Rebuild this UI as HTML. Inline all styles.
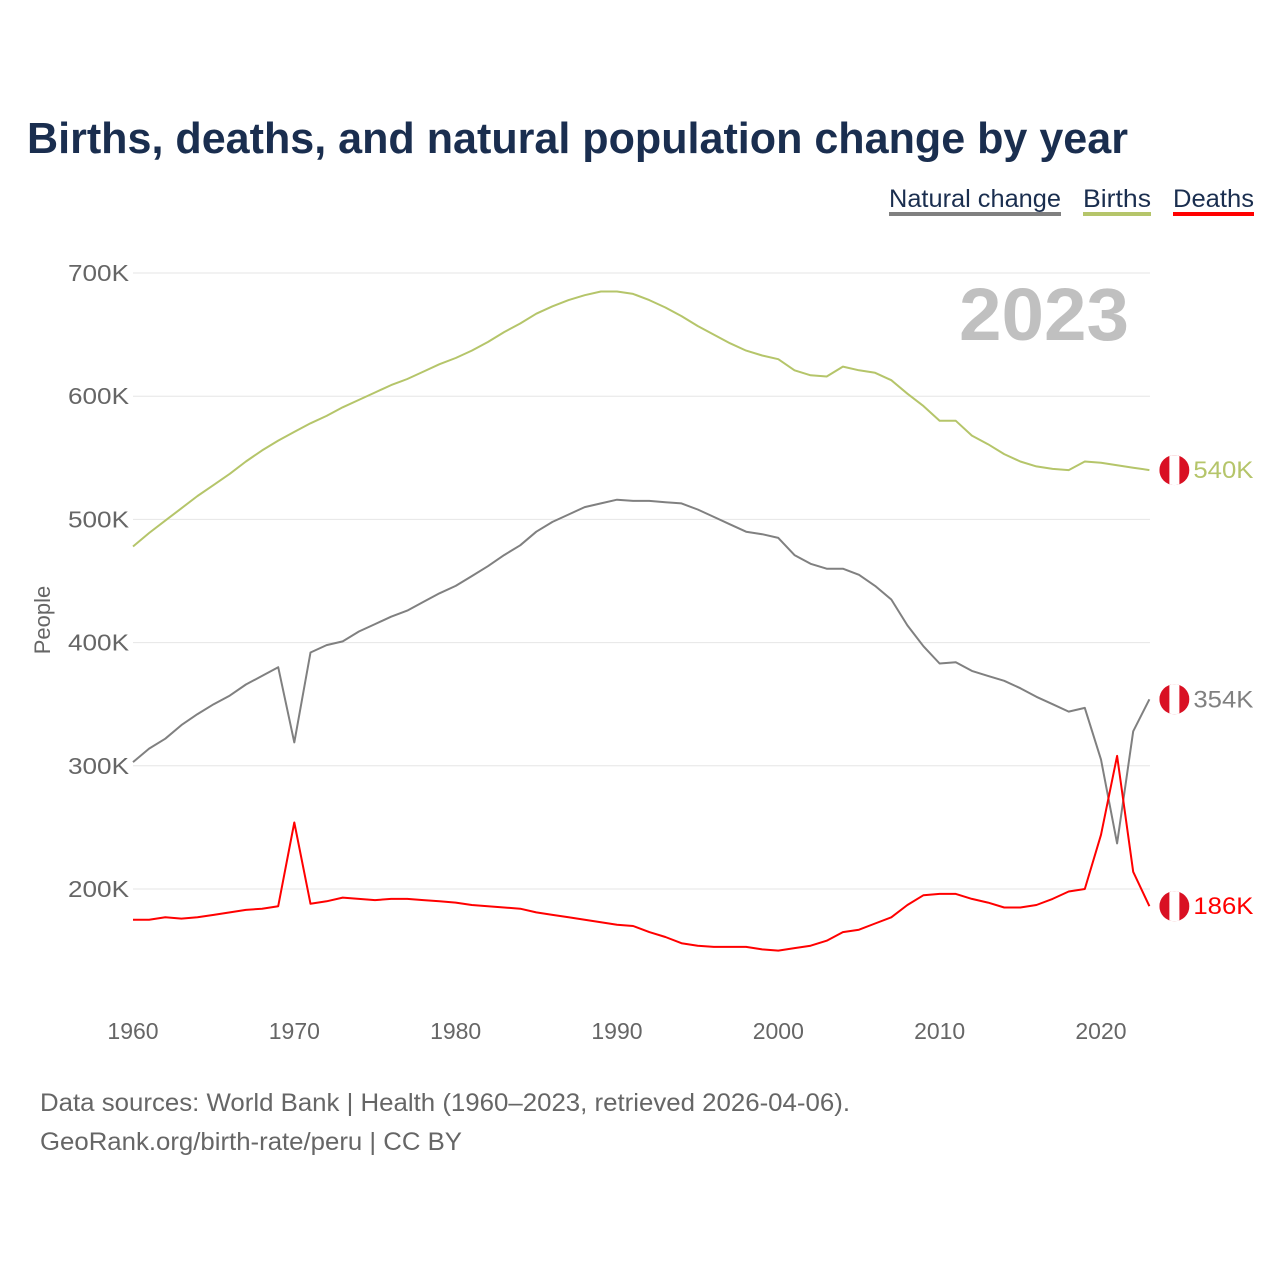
<!DOCTYPE html>
<html><head><meta charset="utf-8"><style>
body{margin:0;background:#fff;font-family:"Liberation Sans",sans-serif;}
svg text{font-family:"Liberation Sans",sans-serif;}
</style></head><body>
<svg id="chart" width="1280" height="1280" xmlns="http://www.w3.org/2000/svg">
<text x="27" y="153" font-size="44" font-weight="bold" fill="#1a2e4f" textLength="1101" lengthAdjust="spacingAndGlyphs">Births, deaths, and natural population change by year</text>
<g>
<g><text x="889" y="207" font-size="25" fill="#1a2e4f" textLength="172" lengthAdjust="spacingAndGlyphs">Natural change</text><rect x="889" y="212" width="172" height="4" fill="#808080"/></g>
<g><text x="1083" y="207" font-size="25" fill="#1a2e4f" textLength="68" lengthAdjust="spacingAndGlyphs">Births</text><rect x="1083" y="212" width="68" height="4" fill="#b5c56a"/></g>
<g><text x="1173" y="207" font-size="25" fill="#1a2e4f" textLength="81" lengthAdjust="spacingAndGlyphs">Deaths</text><rect x="1173" y="212" width="81" height="4" fill="#ff0000"/></g>
</g>
<text x="1129" y="340" font-size="74" font-weight="bold" fill="#c0c0c0" text-anchor="end" textLength="170" lengthAdjust="spacingAndGlyphs">2023</text>
<text transform="translate(50,620) rotate(-90)" font-size="22" fill="#666" text-anchor="middle">People</text>
<g id="grid"></g><g id="series"></g>
<text x="40" y="1111" font-size="25" fill="#666" textLength="810" lengthAdjust="spacingAndGlyphs">Data sources: World Bank | Health (1960–2023, retrieved 2026-04-06).</text>
<text x="40" y="1150" font-size="25" fill="#666" textLength="422" lengthAdjust="spacingAndGlyphs">GeoRank.org/birth-rate/peru | CC BY</text>
</svg>
<script>
const years=[];for(let y=1960;y<=2023;y++)years.push(y);
const births=[478,489,499,509,519,528,537,547,556,564,571,578,584,591,597,603,609,614,620,626,631,637,644,652,659,667,673,678,682,685,685,683,678,672,665,657,650,643,637,633,630,621,617,616,624,621,619,613,602,592,580,580,568,561,553,547,543,541,540,547,546,544,542,540];
const natural=[303,314,322,333,342,350,357,366,373,380,319,392,398,401,409,415,421,426,433,440,446,454,462,471,479,490,498,504,510,513,516,515,515,514,513,508,502,496,490,488,485,471,464,460,460,455,446,435,414,397,383,384,377,373,369,363,356,350,344,347,305,237,328,354];
const deaths=[175,175,177,176,177,179,181,183,184,186,254,188,190,193,192,191,192,192,191,190,189,187,186,185,184,181,179,177,175,173,171,170,165,161,156,154,153,153,153,151,150,152,154,158,165,167,172,177,187,195,196,196,192,189,185,185,187,192,198,200,244,308,214,186];
const yTicks=[200,300,400,500,600,700];
const xTicks=[1960,1970,1980,1990,2000,2010,2020];
const X=yr=>133+(yr-1960)*16.133;
const Y=v=>889-(v-200)*1.232;
const NS="http://www.w3.org/2000/svg";
const grid=document.getElementById('grid'),ser=document.getElementById('series');
function mk(t,a,p){const e=document.createElementNS(NS,t);for(const k in a)e.setAttribute(k,a[k]);p.appendChild(e);return e;}
yTicks.forEach(v=>{
 const l=mk('line',{x1:133,x2:1150,y1:Y(v),y2:Y(v),stroke:'#e6e6e6','stroke-width':1},grid);
 
 
 const t=mk('text',{x:129,y:Y(v)+8,'font-size':23,fill:'#666','text-anchor':'end',textLength:61,lengthAdjust:'spacingAndGlyphs'},grid);t.textContent=v+'K';
 
 
});
xTicks.forEach(yr=>{
 const t=mk('text',{x:X(yr),y:1039,'font-size':23,fill:'#666','text-anchor':'middle'},grid);t.textContent=yr;
 
 
});
function series(vals,color,name,lab){
 const d=vals.map((v,i)=>(i?'L':'M')+X(years[i]).toFixed(1)+','+Y(v).toFixed(1)).join('');
 const p=mk('path',{d:d,fill:'none',stroke:color,'stroke-width':2,'stroke-linejoin':'round'},ser);
 
 
 const lx=X(2023)+25,ly=Y(vals[vals.length-1]);
 const g=mk('g',{},ser);
 
 
 mk('clipPath',{id:'c'+name},g);
 mk('circle',{cx:lx,cy:ly,r:15},g.lastChild);
 const gg=mk('g',{'clip-path':'url(#c'+name+')'},g);
 mk('rect',{x:lx-15,y:ly-15,width:30,height:30,fill:'#d91023'},gg);
 mk('rect',{x:lx-5,y:ly-15,width:10,height:30,fill:'#fff'},gg);
 const t=mk('text',{x:lx+19,y:ly+8,'font-size':24,fill:color,textLength:60,lengthAdjust:'spacingAndGlyphs'},ser);t.textContent=lab;
 
 
}
series(births,'#b5c56a','births','540K');
series(natural,'#808080','natural-change','354K');
series(deaths,'#ff0000','deaths','186K');
</script>
</body></html>
